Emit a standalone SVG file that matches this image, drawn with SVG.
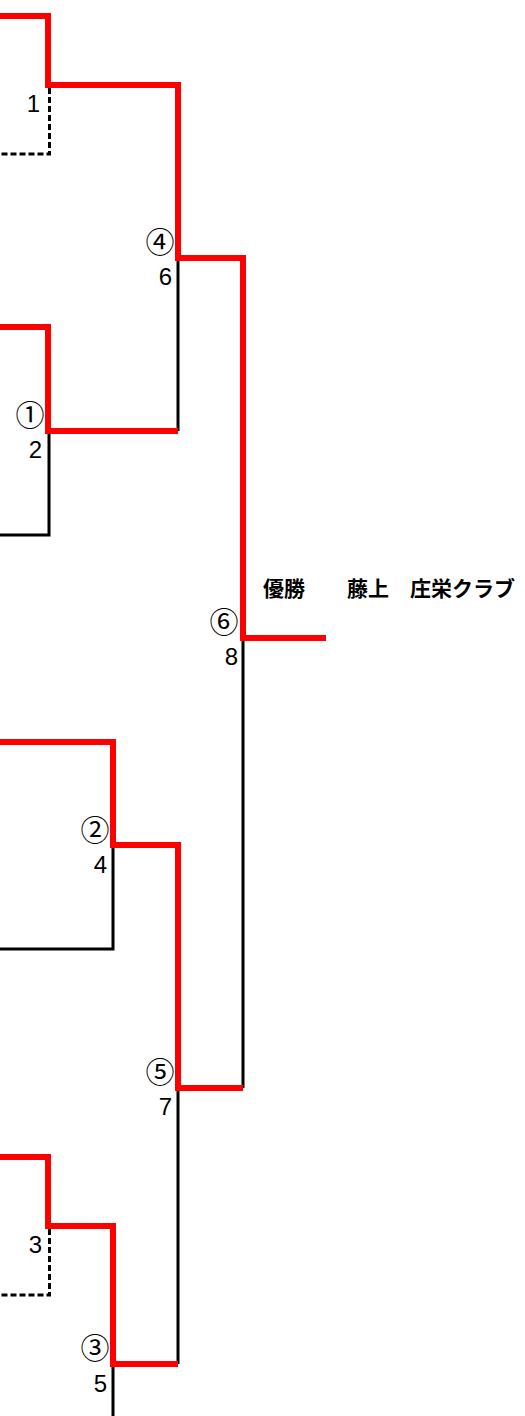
<svg xmlns="http://www.w3.org/2000/svg" width="525" height="1416" viewBox="0 0 525 1416">
<style>
.red{fill:none;stroke:#ff0000;stroke-width:6;stroke-linejoin:miter;stroke-linecap:butt}
.blk{fill:none;stroke:#000;stroke-width:3;stroke-linejoin:miter}
.dash{fill:none;stroke:#000;stroke-width:3;stroke-dasharray:6 3}
.num{font-family:"Liberation Sans","Noto Sans CJK JP",sans-serif;font-size:24px;fill:#000;text-anchor:end}
.circ{font-family:"Noto Sans CJK JP",sans-serif;font-size:29px;fill:#000;text-anchor:middle}
.title{font-family:"Noto Sans CJK JP",sans-serif;font-size:21px;font-weight:bold;fill:#000}
</style>
<rect width="525" height="1416" fill="#fff"/>
<g id="connectors">
<path class="blk" d="M178,258 V431"/>
<path class="blk" d="M49,431 V535 H0"/>
<path class="blk" d="M243,638 V1088"/>
<path class="blk" d="M113,845 V949 H0"/>
<path class="blk" d="M178,1088 V1364"/>
<path class="blk" d="M113,1364 V1416"/>
<path class="dash" d="M49.5,88 V154 H0"/>
<path class="dash" d="M49.5,1229 V1295 H0"/>
<path class="red" d="M0,16 H48 V85 H178 V258 H243 V638 H326"/>
<path class="red" d="M0,327 H48 V431 H178"/>
<path class="red" d="M0,742 H113 V845 H178 V1088 H243"/>
<path class="red" d="M0,1157 H48 V1226 H113 V1364 H178"/>
</g>
<g id="seed1"><text class="num" x="40" y="112">1</text></g>
<g id="seed2"><text class="num" x="42" y="458">2</text></g>
<g id="seed3"><text class="num" x="42" y="1253">3</text></g>
<g id="seed4"><text class="num" x="107" y="873">4</text></g>
<g id="seed5"><text class="num" x="107" y="1392">5</text></g>
<g id="seed6"><text class="num" x="172" y="285">6</text></g>
<g id="seed7"><text class="num" x="172" y="1115">7</text></g>
<g id="seed8"><text class="num" x="238" y="665">8</text></g>
<g id="match1"><text class="circ" x="30" y="426">①</text></g>
<g id="match2"><text class="circ" x="95" y="841">②</text></g>
<g id="match3"><text class="circ" x="95" y="1359">③</text></g>
<g id="match4"><text class="circ" x="160" y="253">④</text></g>
<g id="match5"><text class="circ" x="160" y="1083">⑤</text></g>
<g id="match6"><text class="circ" x="224" y="633">⑥</text></g>
<g id="winner"><text class="title" x="263" y="596">優勝　　藤上　庄栄クラブ</text></g>
</svg>
